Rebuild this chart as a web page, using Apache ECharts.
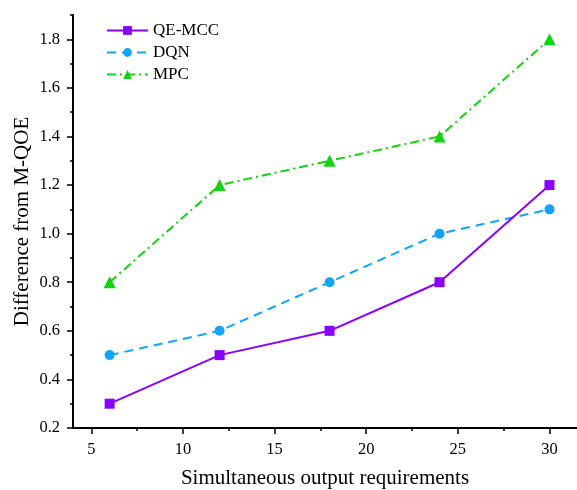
<!DOCTYPE html>
<html>
<head>
<meta charset="utf-8">
<script src="https://cdn.jsdelivr.net/npm/echarts@6/dist/echarts.min.js"></script>
<style>
  html, body { margin: 0; padding: 0; background: #fff; }
  #chart { width: 577px; height: 490px; }
</style>
</head>
<body>
<div id="chart"></div>
<script>
// simultaneous output requirements
var xValues = [6, 12, 18, 24, 30];
var qeMcc = [0.3, 0.5, 0.6, 0.8, 1.2];
var dqn = [0.5, 0.6, 0.8, 1.0, 1.1];
var mpc = [0.8, 1.2, 1.3, 1.4, 1.8];

var xTicks = [5, 10, 15, 20, 25, 30];
var xMinor = [7.5, 12.5, 17.5, 22.5, 27.5];
var yTicks = [0.2, 0.4, 0.6, 0.8, 1.0, 1.2, 1.4, 1.6, 1.8];
var yMinor = [0.3, 0.5, 0.7, 0.9, 1.1, 1.3, 1.5, 1.7, 1.9];

function pairs(ys) {
  return xValues.map(function (x, i) { return [x, ys[i]]; });
}

var font = 'Liberation Serif';
var myChart = echarts.init(document.getElementById('chart'));

myChart.setOption({
  animation: false,
  textStyle: { fontFamily: font },
  grid: { left: 73, right: 0, top: 15, bottom: 62, outerBoundsMode: 'none', containLabel: false },
  legend: {
    left: 101,
    top: 17,
    orient: 'vertical',
    itemWidth: 41,
    itemHeight: 11,
    itemGap: 5,
    textStyle: { fontFamily: font, fontSize: 17, color: '#000' },
    data: ['QE-MCC', 'DQN', 'MPC']
  },
  xAxis: [{
    type: 'value',
    min: 4,
    max: 31.5,
    name: 'Simultaneous output requirements',
    nameLocation: 'middle',
    nameGap: 40,
    nameTextStyle: { fontFamily: font, fontSize: 21, color: '#000' },
    splitLine: { show: false },
    axisLine: { lineStyle: { color: '#000', width: 2 } },
    axisTick: { customValues: xTicks, length: 6, lineStyle: { color: '#000', width: 1.5 } },
    axisLabel: { customValues: xTicks, margin: 13, fontFamily: font, fontSize: 16.5, color: '#000' }
  }, {
    type: 'value',
    position: 'bottom',
    min: 4,
    max: 31.5,
    splitLine: { show: false },
    axisLine: { show: false },
    axisTick: { customValues: xMinor, length: 3, lineStyle: { color: '#000', width: 1.5 } },
    axisLabel: { show: false }
  }],
  yAxis: [{
    type: 'value',
    min: 0.2,
    max: 1.9,
    name: 'Difference from M-QOE',
    nameLocation: 'middle',
    nameGap: 40,
    nameMoveOverlap: false,
    nameTextStyle: { fontFamily: font, fontSize: 21, color: '#000' },
    splitLine: { show: false },
    axisLine: { show: true, lineStyle: { color: '#000', width: 2 } },
    axisTick: { show: true, customValues: yTicks, length: 6, lineStyle: { color: '#000', width: 1.5 } },
    axisLabel: {
      customValues: yTicks, margin: 13, fontFamily: font, fontSize: 16.5, color: '#000',
      formatter: function (v) { return v.toFixed(1); }
    }
  }, {
    type: 'value',
    position: 'left',
    min: 0.2,
    max: 1.9,
    splitLine: { show: false },
    axisLine: { show: false },
    axisTick: { show: true, customValues: yMinor, length: 3, lineStyle: { color: '#000', width: 1.5 } },
    axisLabel: { show: false }
  }],
  series: [{
    name: 'QE-MCC',
    type: 'line',
    data: pairs(qeMcc),
    color: '#8a00ff',
    symbol: 'rect',
    symbolSize: 10,
    lineStyle: { width: 2 },
    z: 3
  }, {
    name: 'DQN',
    type: 'line',
    data: pairs(dqn),
    color: '#11a4ff',
    symbol: 'circle',
    symbolSize: 10,
    lineStyle: { width: 2, type: [9, 6] },
    z: 2
  }, {
    name: 'MPC',
    type: 'line',
    data: pairs(mpc),
    color: '#11d411',
    symbol: 'triangle',
    symbolSize: 12,
    lineStyle: { width: 2, type: [9, 4, 2, 4] },
    z: 2
  }]
});
</script>
</body>
</html>
